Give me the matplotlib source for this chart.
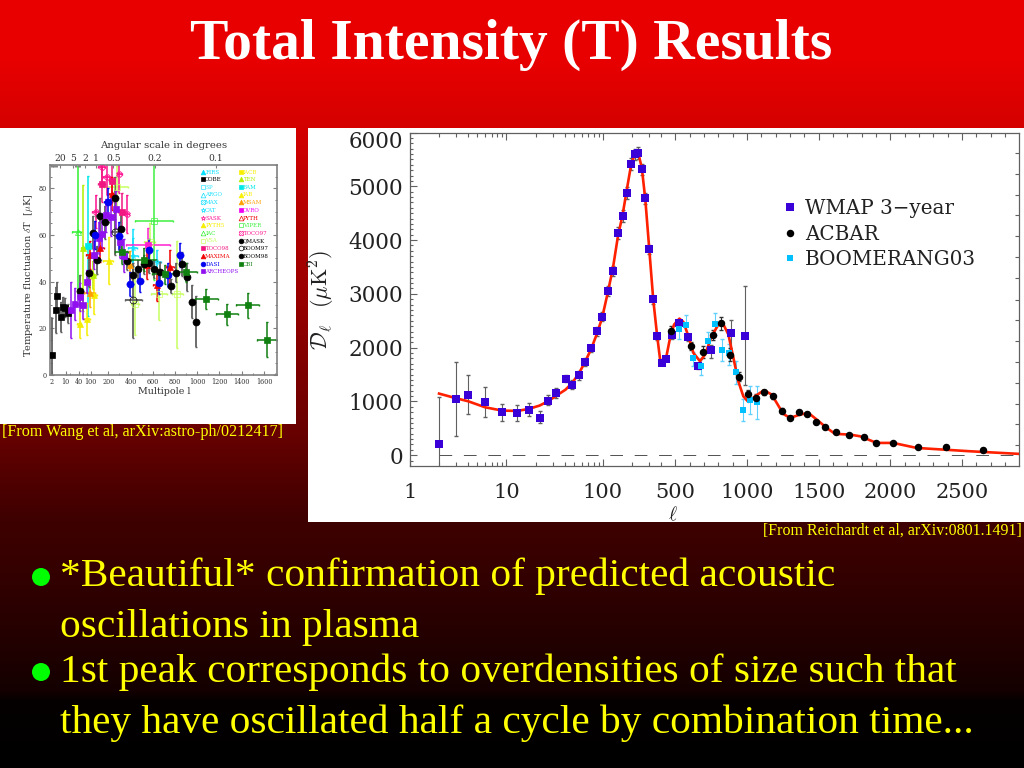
import numpy as np
import matplotlib
matplotlib.use('Agg')
import matplotlib.pyplot as plt
from matplotlib.lines import Line2D
from matplotlib.patches import Rectangle, Circle
from matplotlib.transforms import ScaledTranslation

plt.rcParams['mathtext.fontset'] = 'cm'
W, H = 1024, 768
TITLE = "Total Intensity (T) Results"
BULLETS = ["*Beautiful* confirmation of predicted acoustic",
           "oscillations in plasma",
           "1st peak corresponds to overdensities of size such that",
           "they have oscillated half a cycle by combination time..."]
CITE_L = "[From Wang et al, arXiv:astro-ph/0212417]"
CITE_R = "[From Reichardt et al, arXiv:0801.1491]"

# ---------- right panel data ----------
wmap_l = [2,3,4,6,9,13,17,22,27,33,41,48,56,65,75,86,98,112,127,143,160,178,196,213,232,253,275,302,332,365,405,433,474,526,588,660,751,888,988]
wmap_d = [204,1041,1121,991,799,781,849,700,1016,1152,1425,1313,1487,1735,1989,2305,2577,3048,3426,4133,4449,4876,5421,5595,5620,5322,4777,3835,2900,2212,1716,1797,2231,2460,2193,1660,1952,2280,2224]
wmap_lo = [-300,353,762,706,644,632,737,607,929,1066,1357,1227,1406,1660,1921,2224,2491,2955,3327,4027,4343,4765,5310,5483,5514,5217,4672,3749,2819,2144,1680,1760,2170,2400,2130,1600,1815,1871,1313]
wmap_hi = [1078,1729,1487,1270,948,929,967,818,1115,1245,1487,1400,1561,1809,2057,2392,2664,3141,3525,4238,4554,4994,5533,5700,5726,5421,4876,3916,2968,2274,1750,1835,2290,2520,2255,1720,2057,2509,3141]

acbar_l = [472,607,695,763,821,884,942,1005,1063,1121,1184,1242,1302,1360,1421,1481,1542,1618,1714,1814,1900,2020,2195,2390,2643]
acbar_d = [2311,2026,1921,2237,2454,1871,1462,1140,1072,1171,1097,830,700,799,762,620,520,440,372,347,229,223,155,155,99]
acbar_e = [99,74,105,99,124,115,84,68,68,50,50,40,35,35,35,30,30,30,25,25,25,25,25,30,35]

boom_l = [526,577,626,677,726,774,826,874,925,974,1023,1072]
boom_d = [2342,2429,1809,1660,2119,2435,1964,1908,1543,843,1022,985]
boom_lo = [2170,2260,1650,1500,1950,2230,1760,1680,1320,635,775,680]
boom_hi = [2490,2600,1920,1810,2290,2640,2170,2060,1760,1050,1280,1280]

curve_l = [2,3,4,6,9,13,17,22,27,33,41,48,56,65,75,86,98,112,127,143,160,178,196,213,232,253,275,302,332,365,390,405,433,463,491,528,556,591,626,672,707,753,800,830,870,905,939,974,1009,1056,1118,1172,1207,1253,1300,1370,1428,1486,1556,1614,1718,1788,1904,2020,2183,2369,2555,2899]
curve_d = [1146,1060,1004,892,830,824,861,923,1004,1109,1220,1345,1512,1729,1964,2243,2553,3017,3482,4071,4473,4969,5403,5589,5620,5341,4752,3835,2900,2212,1800,1700,1778,2181,2429,2540,2478,2212,1902,1747,1871,2212,2429,2460,2243,1809,1375,1097,991,1097,1208,1128,973,768,694,756,787,663,508,397,384,353,229,229,136,105,74,25]

right_xticks = [1,10,100,500,1000,1500,2000,2500]
right_xlabels = ['1','10','100','500','1000','1500','2000','2500']
right_yticks = [0,1000,2000,3000,4000,5000,6000]
right_side_ticks = [186,582,960,1338,1729,2119,2509,2893,3296,3680,4071,4461,4845,5230,5620]

# ---------- left panel data ----------
LEG = [("FIRS","#00e0ff","^",True),("COBE","k","s",True),("SP","#30e8ff","s",False),("ARGO","#10e0ff","^",False),
       ("MAX","#10e0ff","X",False),("CAT","#10e0ff","*",False),("SASK","#ff1090","*",False),("PYTH5","#f5ee00","^",True),
       ("IAC","#30f030","^",False),("VSA","#c8ff60","s",False),("TOCO98","#f01880","s",True),("MAXIMA","#f00000","^",True),
       ("DASI","#0000f0","o",True),("ARCHEOPS","#9010f0","s",True),
       ("IACB","#f8f000","s",True),("TEN","#b0f000","^",True),("BAM","#00e8e8","s",True),("IAB","#f8f000","^",True),
       ("MSAM","#ffa000","^",True),("OVRO","#f000f0","s",True),("PYTH","#f00000","^",False),("VIPER","#40f040","s",False),
       ("TOCO97","#ff1090","X",False),("QMASK","k","o",True),("BOOM97","k","o",False),("BOOM98","k","o",True),("CBI","#108010","s",True)]

ten = ([61,115],[54.6,43],[10,15],[27,6])
pyth5 = ([43,82,118,205],[22,24,34.3,49],[8,15,20,35],[6,7,8,10])
iac = ([37],[61.5],[14],[28])
vsa = ([275,440,658,820,574],[80.5,30.3,34.6,34.6,57],[100,40,70,50,50],[9,13,11,23,8])
viper = ([610],[65.8],[170],[25])
cat = ([419,425,634],[54.4,50.8,48.6],[40,40,40],[8,8,5])
bam = ([88],[55.5],[15],[30])
toco97 = ([162,191,299,364,130],[89,85,86,69,70],[20,20,20,20,20],[7,8,8,8,7])
toco98 = ([162,230,320],[82,83,70],[20,25,30],[8,9,8])
maxima = ([96,153,230,544,754,634],[51.5,54.4,77.7,47.2,46.5,38.6],[20,25,25,35,35,35],[6,6,7,6,7,7])
msam = ([96,394],[35,47],[30,30],[6,6])
ovro = ([559],[55.8],[200],[7])
cobe = ([2,4.3,5.2,7.1,8.5,9.8,16],[8.6,27.9,34,25,29.3,28.9,26.5],[0,0,0,0,0,0,2],[16,10,6,6.5,4,4,4])
archeops = ([21,31,43.5,61,78,121,145,162,187,224,266,305,341],[27.9,30.5,33.6,30,40,51.5,58.7,60.4,68.4,67.7,71,57,51.2],
            [4,5,6,8,8,10,10,10,12,14,16,18,20],[12,7,6,6,5,6,7,6,7,8,8,7,7])
dasi = ([125,198,299,397,484,565,658,733,844],[60,74,59.4,39,40.5,53.4,39.6,42.9,51.5],[20,25,25,25,25,25,25,25,25],[6,6,6,5,5,5,5,5,5])
qmask = ([43.5,91,115,138,153,181,260,314],[36,43.6,61,49.4,68,65.4,75.8,62.5],[8,15,18,20,20,25,30,30],[7,6,7,6,8,7,9,8])
boom97 = ([424,260],[32,61.5],[75,40],[16,10])
boom98 = ([371,422,469,523,568,613,664,763,808,859,904,949,993],[49,42.9,45.3,47.5,47.9,45.5,44.3,38,43.9,47.6,42.2,31.5,22.9],
          [20,20,20,20,20,20,20,20,20,20,20,20,20],[4,4,4,4,4,4,4,3,4,5,6,7,11])
cbi = ([320,520,709,898,1083,1269,1452,1628],[52.6,49.4,43.2,44,32.6,26,29.8,15.2],[60,120,120,100,100,100,100,90],[5,5,4,4,4.4,4.5,5.5,7.6])

series = [(bam,"#00e8e8","s",True),(ten,"#b0f000","^",True),(iac,"#30f030","^",False),(pyth5,"#f5ee00","^",True),(vsa,"#c8ff60","s",False),
          (viper,"#40f040","s",False),(cat,"#10e0ff","*",False),(msam,"#ffa000","^",True),(ovro,"#ff20d0","s",True),
          (toco97,"#ff1090","X",False),(toco98,"#f01880","s",True),(maxima,"#f00000","^",True),(cobe,"k","s",True),
          (qmask,"k","o",True),(boom97,"k","o",False),(boom98,"k","o",True),(archeops,"#9010f0","s",True),(dasi,"#0000f0","o",True),(cbi,"#108010","s",True)]

left_x_anchor_l = [1,2,10,40,100,200,1720]
left_x_anchor_p = [150,155,197,238,272,325,832]
left_xticks = [2,10,40,100,200,400,600,800,1000,1200,1400,1600]
left_top_l = [7,26,70,130,245,620,1170]
left_top_lab = ['20','5','2','1','0.5','0.2','0.1']

# ---------- canvas ----------
fig = plt.figure(figsize=(W/100, H/100), dpi=100)
bg = fig.add_axes([0,0,1,1])
grad_y = np.arange(H)
grad_r = np.interp(grad_y,[0,60,128,430,480,520,560,640,690,700,768],[232,232,212,105,80,62,55,35,20,5,0])
img = np.zeros((H,1,3)); img[:,0,0] = grad_r/255
bg.imshow(img, extent=(0,W,H,0), aspect='auto', interpolation='nearest')
bg.set_xlim(0,W); bg.set_ylim(H,0); bg.axis('off')
bg.add_patch(Rectangle((0,128),296,296,fc='white',ec='none'))
bg.add_patch(Rectangle((308,128),716,394,fc='white',ec='none'))
bg.text(511.5,59,TITLE,color='white',family='Liberation Serif',weight='bold',fontsize=41.5,ha='center',va='baseline')
for y,t in zip([586,637,682,733],BULLETS):
    bg.text(60,y,t,color='#ffff00',family='Liberation Serif',fontsize=29.8,va='baseline')
for y in [577,672]:
    bg.add_patch(Circle((41,y),9,fc='#00ff00',ec='none'))
bg.text(2,436,CITE_L,color='#ffff00',family='Liberation Serif',fontsize=11.6,va='baseline')
bg.text(1022,535,CITE_R,color='#ffff00',family='Liberation Serif',fontsize=11.5,ha='right',va='baseline')

def px_axes(l,t,r,b):
    a = fig.add_axes([l/W,1-b/H,(r-l)/W,(b-t)/H]); a.patch.set_alpha(0); return a

# ---------- right panel ----------
GR = '#606060'
def fwd(l):
    l = np.clip(np.asarray(l,float),0.1,None)
    return np.where(l<=400,96.5*np.log10(l),251.1+0.1434*(l-400))
def inv(p):
    p = np.asarray(p,float)
    return np.where(p<=251.1,10**(p/96.5),400+(p-251.1)/0.1434)
ax = px_axes(410,132.5,1019,466)
ax.set_xscale('function',functions=(fwd,inv))
ax.set_xlim(1,2897); ax.set_ylim(-200,6000)
minor_x = [i*d for d in (1,10) for i in range(2,10)]+[200,300,400]+[l for l in range(600,2900,100) if l%500]
ax.set_xticks(right_xticks,right_xlabels); ax.set_xticks(minor_x,minor=True)
ax.set_yticks(right_yticks); ax.set_yticks(np.arange(-100,6001,100),minor=True)
ax.tick_params(axis='x',which='major',direction='in',length=5,width=.8,color=GR,pad=12,labelsize=15,labelcolor='#222',top=True)
ax.tick_params(axis='x',which='minor',direction='in',length=3,width=.8,color=GR,top=True)
ax.tick_params(axis='y',which='major',direction='in',length=5,width=.8,color=GR,pad=5,labelsize=15.5,labelcolor='#222')
ax.tick_params(axis='y',which='minor',direction='in',length=2,width=.8,color=GR)
for lab in ax.get_xticklabels()+ax.get_yticklabels():
    lab.set_family('DejaVu Serif')
top_lab = ax.get_yticklabels()[-1]
top_lab.set_verticalalignment('top')
top_lab.set_transform(top_lab.get_transform()+ScaledTranslation(0,2/100,fig.dpi_scale_trans))
for s in ax.spines.values():
    s.set_color(GR); s.set_linewidth(.9)
rt = ax.twinx(); rt.set_ylim(ax.get_ylim()); rt.set_yticks(right_side_ticks,['']*len(right_side_ticks))
rt.tick_params(axis='y',direction='in',length=3,width=.8,color=GR)
rt.patch.set_alpha(0)
for s in rt.spines.values():
    s.set_visible(False)
ax.plot([2,2897],[0,0],color='#555',lw=.72,ls=(0,(12.7,11.7)),zorder=1)
ax.plot(curve_l,curve_d,color='#ff2000',lw=1.9,solid_joinstyle='round',zorder=3)
ax.errorbar(boom_l,boom_d,yerr=[np.subtract(boom_d,boom_lo),np.subtract(boom_hi,boom_d)],fmt='none',ecolor='#60d0ff',elinewidth=.8,capsize=1.6,zorder=2)
ax.errorbar(wmap_l,wmap_d,yerr=[np.subtract(wmap_d,wmap_lo),np.subtract(wmap_hi,wmap_d)],fmt='none',ecolor='#606060',elinewidth=.8,capsize=1.5,zorder=2)
ax.errorbar(acbar_l,acbar_d,yerr=acbar_e,fmt='none',ecolor='#303030',elinewidth=.8,capsize=1.5,zorder=2)
h1, = ax.plot(wmap_l,wmap_d,'s',color='#3a00d8',ms=5.2,mew=0,ls='none',zorder=4,label='WMAP 3\u2212year')
h3, = ax.plot(boom_l,boom_d,'s',color='#00c0ff',ms=4.8,mew=0,ls='none',zorder=4,label='BOOMERANG03')
h2, = ax.plot(acbar_l,acbar_d,'o',color='k',ms=5.4,mew=0,ls='none',zorder=5,label='ACBAR')
ax.legend(handles=[h1,h2,h3],frameon=False,loc='upper left',bbox_to_anchor=(375/609,(466-199)/333.5),borderaxespad=0,borderpad=0,
          handlelength=.5,handletextpad=.5,labelspacing=.33,numpoints=1,
          prop={'family':'DejaVu Serif','size':14.3},labelcolor='#222')
ax.set_xlabel(r'$\ell$',fontsize=14,color='#222')
ax.xaxis.set_label_coords((673-410)/609,-(505-466)/333.5)
ax.set_ylabel(r'$\mathcal{D}_\ell\;\;\;(\mu\mathrm{K}^2)$',fontsize=16,color='#222')
ax.yaxis.set_label_coords(-(410-337)/609,(466-300)/333.5)

# ---------- left panel ----------
def lf(l): return np.interp(l,left_x_anchor_l,left_x_anchor_p)
def li(p): return np.interp(p,left_x_anchor_p,left_x_anchor_l)
GL = '#808080'
a2 = px_axes(50,165,277.3,375)
a2.set_xscale('function',functions=(lf,li))
a2.set_xlim(1,1720); a2.set_ylim(0,90)
a2.set_xticks(left_xticks,[str(v) for v in left_xticks])
a2.set_xticks(list(range(20,100,20))+[l for l in range(300,1720,100) if l%200],minor=True)
a2.set_yticks(range(0,81,20)); a2.set_yticks(range(0,91,5),minor=True)
a2.tick_params(axis='both',which='major',direction='in',length=3,width=.8,color=GL,labelsize=4.7,labelcolor='#333',pad=2)
a2.tick_params(axis='both',which='minor',direction='in',length=1.6,width=.7,color=GL)
a2.tick_params(axis='y',which='both',right=True)
for lab in a2.get_xticklabels()+a2.get_yticklabels():
    lab.set_family('DejaVu Serif')
for s in a2.spines.values():
    s.set_color(GL); s.set_linewidth(1.2)
for (data,c,m,fill) in series:
    l,t,le,te = data
    ec = '#606060' if c=='k' else c
    a2.errorbar(l,t,xerr=le,yerr=te,fmt='none',ecolor=ec,elinewidth=1.1 if c!='k' else 1.3,capsize=.8,clip_on=True,zorder=2)
    ms = 5.0 if m=='o' else 3.7
    a2.plot(l,t,m,color=c,ms=ms,mew=.5,mfc=c if fill else 'none',ls='none',zorder=3)
tp = a2.twiny(); tp.set_xscale('function',functions=(lf,li)); tp.set_xlim(1,1720)
tp.set_xticks(left_top_l,left_top_lab)
tp.set_xticks([1.5,2,2.5,3,3.5,4,4.5,5,26,30,33,36,40,45],minor=True)
tp.tick_params(axis='x',which='major',direction='in',length=2.5,width=.8,color=GL,labelsize=6.6,labelcolor='#333',pad=1.5)
tp.tick_params(axis='x',which='minor',direction='in',length=1.6,width=.7,color=GL)
tp.patch.set_alpha(0)
for lab in tp.get_xticklabels():
    lab.set_family('DejaVu Serif')
for s in tp.spines.values():
    s.set_visible(False)
bg.text(164,146,"Angular scale in degrees",fontsize=7.3,family='DejaVu Serif',color='#333',ha='center',va='center')
a2.set_xlabel("Multipole l",fontsize=6.8,family='DejaVu Serif',color='#333')
a2.xaxis.set_label_coords((164-50)/227.3,-(392-375-5)/210)
a2.set_ylabel(r"Temperature fluctuation $\delta$T  [$\mu$K]",fontsize=7,family='DejaVu Serif',color='#333')
a2.yaxis.set_label_coords(-(50-35)/227.3,(375-275)/210)
handles = [Line2D([],[],marker=m,color=c,mfc=c if f else 'none',ls='none',ms=3.4,mew=.5) for _,c,m,f in LEG]
labels = [n for n,_,_,_ in LEG]
lg = a2.legend(handles,labels,ncol=2,frameon=False,loc='upper left',bbox_to_anchor=((201-50)/227.3,(375-169.5)/210),borderaxespad=0,borderpad=0,
          handlelength=.6,handletextpad=.15,labelspacing=.48,columnspacing=.1,prop={'family':'DejaVu Serif','size':4.0})
for t,(n,c,m,f) in zip(lg.get_texts(),LEG):
    t.set_color(c)
fig.savefig('out.png',dpi=100)
